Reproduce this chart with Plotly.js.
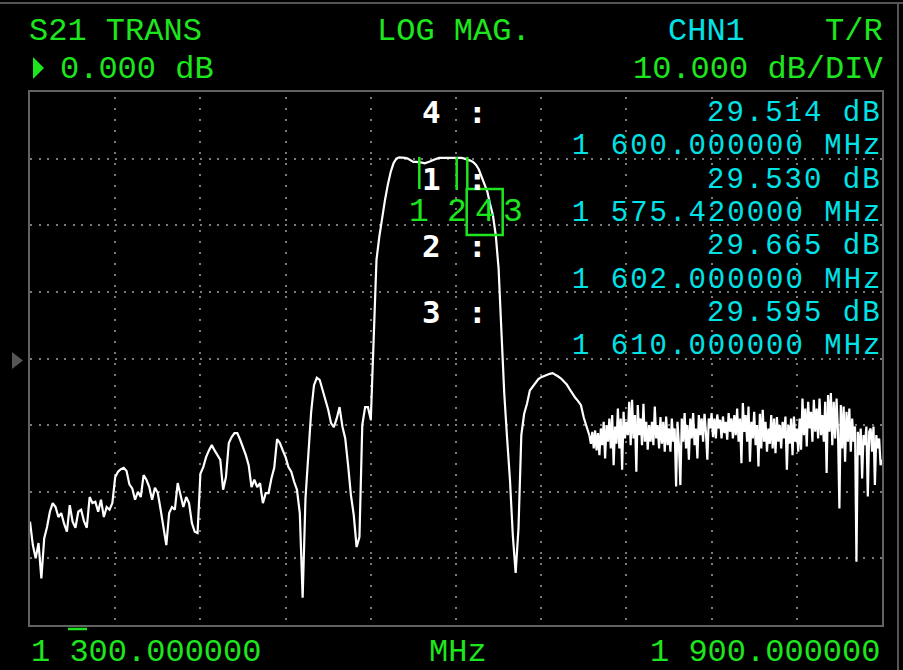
<!DOCTYPE html>
<html>
<head>
<meta charset="utf-8">
<script src="https://cdn.plot.ly/plotly-3.0.1.min.js"></script>
<style>
  html, body { margin: 0; padding: 0; background: #000; }
  #chart { width: 903px; height: 670px; }
</style>
</head>
<body>
<div id="chart"></div>
<script>
// ---- data ----
// sweep 1300 -> 1694 MHz, read every 2 MHz
const lowStartMHz = 1300;
const lowStepMHz = 2;
const lowBandDb = [
  -24.5, -28.0, -30.0, -27.7, -33.0, -27.0, -25.3, -23.0, -21.7, -22.3,
  -23.8, -23.2, -24.8, -26.0, -22.0, -24.5, -25.4, -23.0, -22.7, -24.4,
  -25.4, -20.8, -21.7, -21.5, -23.0, -21.2, -23.8, -22.3, -22.7, -21.7,
  -17.8, -17.0, -16.6, -16.4, -16.9, -18.9, -19.5, -21.2, -20.0, -20.8,
  -17.5, -18.2, -19.3, -21.2, -19.4, -20.2, -22.7, -25.3, -28.0, -23.2,
  -22.3, -22.7, -18.7, -20.5, -22.3, -20.8, -21.7, -24.7, -26.0, -26.2,
  -17.3, -16.3, -14.8, -13.8, -13.0, -13.8, -14.5, -15.2, -19.7, -17.8,
  -12.7, -11.8, -11.2, -11.2, -12.2, -13.3, -14.5, -16.0, -19.3, -18.2,
  -19.3, -18.7, -21.7, -20.2, -20.2, -18.0, -16.4, -12.1, -12.7, -13.8,
  -14.8, -16.3, -17.0, -18.5, -19.7, -23.2, -35.9, -21.0, -14.5, -8.0,
  -4.0, -2.9, -3.2, -4.6, -6.2, -7.7, -9.7, -10.3, -9.0, -7.3,
  -10.2, -12.0, -16.0, -20.5, -23.5, -28.3, -26.8, -10.0, -7.3, -7.3,
  -9.2, 2.8, 14.8, 18.3, 21.2, 23.8, 26.1, 28.0, 29.3, 30.0,
  30.2, 30.2, 30.1, 30.0, 29.8, 29.5, 29.5, 29.5, 29.4, 29.3,
  29.4, 29.6, 29.8, 30.0, 30.1, 30.1, 30.1, 30.1, 30.2, 30.2,
  30.2, 30.1, 30.1, 30.0, 29.9, 29.7, 29.5, 29.1, 28.4, 27.2,
  26.3, 25.1, 23.2, 21.5, 18.5, 13.5, 4.0, -5.3, -12.0, -18.2,
  -26.5, -32.2, -25.5, -11.5, -8.3, -6.8, -4.8, -4.2, -3.6, -3.1,
  -2.8, -2.6, -2.5, -2.3, -2.2, -2.4, -2.7, -3.0, -3.4, -3.9,
  -4.6, -5.3, -5.9, -6.4, -7.0, -8.9, -10.4, -11.6
];
// sweep 1694 -> 1900 MHz (noisy stopband), read every 1 MHz
const highStartMHz = 1694;
const highStepMHz = 1;
const highBandDb = [
  -11.6, -12.8, -11.0, -13.5, -10.8, -13.8, -11.2, -14.5, -10.5, -13.0,
  -9.5, -15.0, -10.0, -12.5, -9.0, -13.5, -8.5, -16.0, -10.2, -12.8,
  -7.5, -13.5, -9.0, -16.7, -8.0, -12.0, -9.5, -11.5, -6.5, -13.0,
  -6.2, -12.0, -8.5, -17.0, -7.0, -11.5, -9.0, -13.0, -6.8, -12.5,
  -9.5, -13.7, -10.0, -12.5, -9.5, -13.0, -7.2, -12.0, -10.0, -13.5,
  -8.8, -12.8, -9.5, -14.0, -8.7, -13.0, -10.5, -14.0, -9.0, -12.5,
  -10.5, -19.2, -9.5, -13.0, -19.0, -9.0, -12.5, -8.2, -13.5, -10.0,
  -15.2, -9.0, -12.0, -8.2, -13.0, -10.5, -15.0, -8.5, -11.5, -9.0,
  -12.5, -8.3, -11.0, -15.2, -9.0, -10.5, -8.2, -11.8, -9.0, -12.0,
  -8.4, -10.5, -9.2, -12.0, -8.7, -11.2, -9.5, -12.2, -8.2, -11.0,
  -9.0, -12.0, -8.5, -11.5, -7.5, -12.5, -9.0, -15.7, -6.7, -11.0,
  -8.5, -12.5, -7.2, -15.5, -9.5, -12.0, -8.0, -13.0, -10.0, -16.2,
  -8.3, -13.5, -7.7, -12.5, -9.5, -14.0, -10.5, -12.8, -8.5, -13.5,
  -9.0, -14.2, -8.8, -12.5, -10.0, -13.5, -9.5, -12.0, -8.7, -16.7,
  -10.0, -12.8, -9.0, -14.5, -8.7, -12.5, -10.5, -14.0, -9.0, -13.7,
  -6.0, -11.5, -7.5, -13.2, -6.5, -10.5, -8.0, -12.5, -6.2, -11.0,
  -7.5, -12.0, -6.0, -11.5, -8.5, -12.5, -6.5, -17.2, -5.5, -11.0,
  -5.2, -13.0, -6.5, -12.0, -6.0, -11.0, -22.5, -7.0, -13.5, -7.2,
  -15.5, -8.0, -12.5, -7.5, -14.0, -9.0, -12.5, -10.2, -30.5, -11.0,
  -14.5, -10.5, -18.0, -11.5, -13.0, -10.2, -20.7, -11.0, -10.5, -14.0,
  -10.2, -19.0, -11.5, -13.5, -12.0, -16.0, -15.2
];
const startFreqMHz = 1300;
const stopFreqMHz = 1900;
const bottomDb = -40;
const topDb = 40;
const dbPerDiv = 10;
const mhzPerDiv = 60;

const markerIds   = ['4', '1', '2', '3'];
const markerDb    = ['29.514', '29.530', '29.665', '29.595'];
const markerFreq  = ['1 600.000000', '1 575.420000', '1 602.000000', '1 610.000000'];
const markerOrder = ['1', '2', '4', '3'];   // green flags, left to right

const headerTexts = ['S21 TRANS', 'LOG MAG.', 'CHN1', 'T/R'];
const refText = '0.000 dB';
const scaleText = '10.000 dB/DIV';
const startText = '1 300.000000';
const unitText = 'MHz';
const stopText = '1 900.000000';

// ---- layout helpers (pixel -> paper) ----
const L = 30, R = 882, T = 92, B = 625;
const px = x => (x - L) / (R - L);
const py = y => (B - y) / (B - T);
const GREEN = '#1ee61e', CYAN = '#00e2e6', WHITE = '#ffffff';
const MONO = 'Liberation Mono, DejaVu Sans Mono, monospace';

function txt(text, x, y, color, size, anchor, opt) {
  opt = opt || {};
  let t = text;
  if (opt.spacing) t = '<span style="letter-spacing:' + opt.spacing + 'px">' + t + '</span>';
  if (opt.bold) t = '<b>' + t + '</b>';
  return {
    text: t,
    xref: 'paper', yref: 'paper', x: px(x), y: py(y + 2),
    xanchor: anchor, yanchor: 'middle', showarrow: false, borderpad: 0,
    font: { family: opt.family || MONO, size: size, color: color }
  };
}

const ann = [
  txt(headerTexts[0], 28, 29, GREEN, 32, 'left'),
  txt(headerTexts[1], 376, 29, GREEN, 32, 'left'),
  txt(headerTexts[2], 667, 29, CYAN, 32, 'left'),
  txt(headerTexts[3], 884, 29, GREEN, 32, 'right'),
  txt(refText, 59, 68, GREEN, 32, 'left'),
  txt(scaleText, 884, 68, GREEN, 32, 'right'),
  txt(startText, 30, 650, GREEN, 32, 'left'),
  txt(unitText, 428, 650, GREEN, 32, 'left'),
  txt(stopText, 881, 650, GREEN, 32, 'right')
];
const rowDb = [111.5, 178.1, 244.7, 311.3];
markerIds.forEach((id, k) => {
  ann.push(txt(markerDb[k] + ' dB', 883, rowDb[k], CYAN, 29, 'right', { spacing: 2 }));
  ann.push(txt(markerFreq[k] + ' MHz', 883, rowDb[k] + 33.3, CYAN, 29, 'right', { spacing: 2 }));
  ann.push(txt(id, 431, rowDb[k] - 1, WHITE, 31, 'center', { bold: true, family: 'DejaVu Sans Mono, monospace' }));
  ann.push(txt(':', 477, rowDb[k] - 1, WHITE, 31, 'center', { bold: true, family: 'DejaVu Sans Mono, monospace' }));
});
const flagX = [419, 456.5, 484.7, 513];
markerOrder.forEach((id, k) => {
  ann.push(txt(id, flagX[k], 210, GREEN, 33, 'center'));
});

function pLine(x0, y0, x1, y1, color, w) {
  return { type: 'line', xref: 'paper', yref: 'paper', x0: px(x0), y0: py(y0), x1: px(x1), y1: py(y1),
           line: { color: color, width: w }, layer: 'above' };
}
function pPath(pts, color) {
  const d = pts.map((p, i) => (i ? 'L' : 'M') + px(p[0]).toFixed(5) + ',' + py(p[1]).toFixed(5)).join(' ') + ' Z';
  return { type: 'path', xref: 'paper', yref: 'paper', path: d, fillcolor: color, line: { width: 0 }, layer: 'above' };
}

const shapes = [
  pLine(419.3, 157, 419.3, 189, GREEN, 2.5),
  pLine(456.7, 157, 456.7, 190, GREEN, 2.5),
  pLine(467.3, 157, 467.3, 190, GREEN, 2.5),
  { type: 'rect', xref: 'paper', yref: 'paper', x0: px(466.7), x1: px(502.7), y0: py(189), y1: py(235),
    line: { color: GREEN, width: 2.5 }, layer: 'above' },
  pLine(68, 629, 87, 629, GREEN, 2.5),
  pPath([[33, 57], [44, 68], [33, 79]], GREEN),
  pPath([[12, 352], [23, 360.5], [12, 369]], '#555555'),
  pLine(898, 4, 898, 670, '#555555', 2),
  pLine(0, 3, 903, 3, '#555555', 2)
];

const traceStyle = { color: '#ffffff', width: 2.2 };
const traces = [
  { type: 'scatter', mode: 'lines', x0: lowStartMHz, dx: lowStepMHz, y: lowBandDb,
    line: traceStyle, hoverinfo: 'skip' },
  { type: 'scatter', mode: 'lines', x0: highStartMHz, dx: highStepMHz, y: highBandDb,
    line: traceStyle, hoverinfo: 'skip' }
];

const axisCommon = {
  showticklabels: false, ticks: '', zeroline: false,
  showline: true, mirror: true, linecolor: '#626262', linewidth: 2,
  showgrid: true, gridcolor: '#7a7a7a', gridwidth: 2, fixedrange: true
};

const layout = {
  width: 903, height: 670,
  margin: { l: L, r: 903 - R, t: T, b: 670 - B, pad: 0 },
  paper_bgcolor: '#000000', plot_bgcolor: '#000000',
  showlegend: false,
  xaxis: Object.assign({}, axisCommon, {
    range: [startFreqMHz, stopFreqMHz], dtick: mhzPerDiv, tick0: startFreqMHz,
    griddash: '0px,4.6px,2px,4.5px'
  }),
  yaxis: Object.assign({}, axisCommon, {
    range: [bottomDb, topDb], dtick: dbPerDiv, tick0: bottomDb,
    griddash: '2px,6.5px'
  }),
  annotations: ann,
  shapes: shapes
};

Plotly.newPlot('chart', traces, layout, { displayModeBar: false, staticPlot: true });
</script>
</body>
</html>
